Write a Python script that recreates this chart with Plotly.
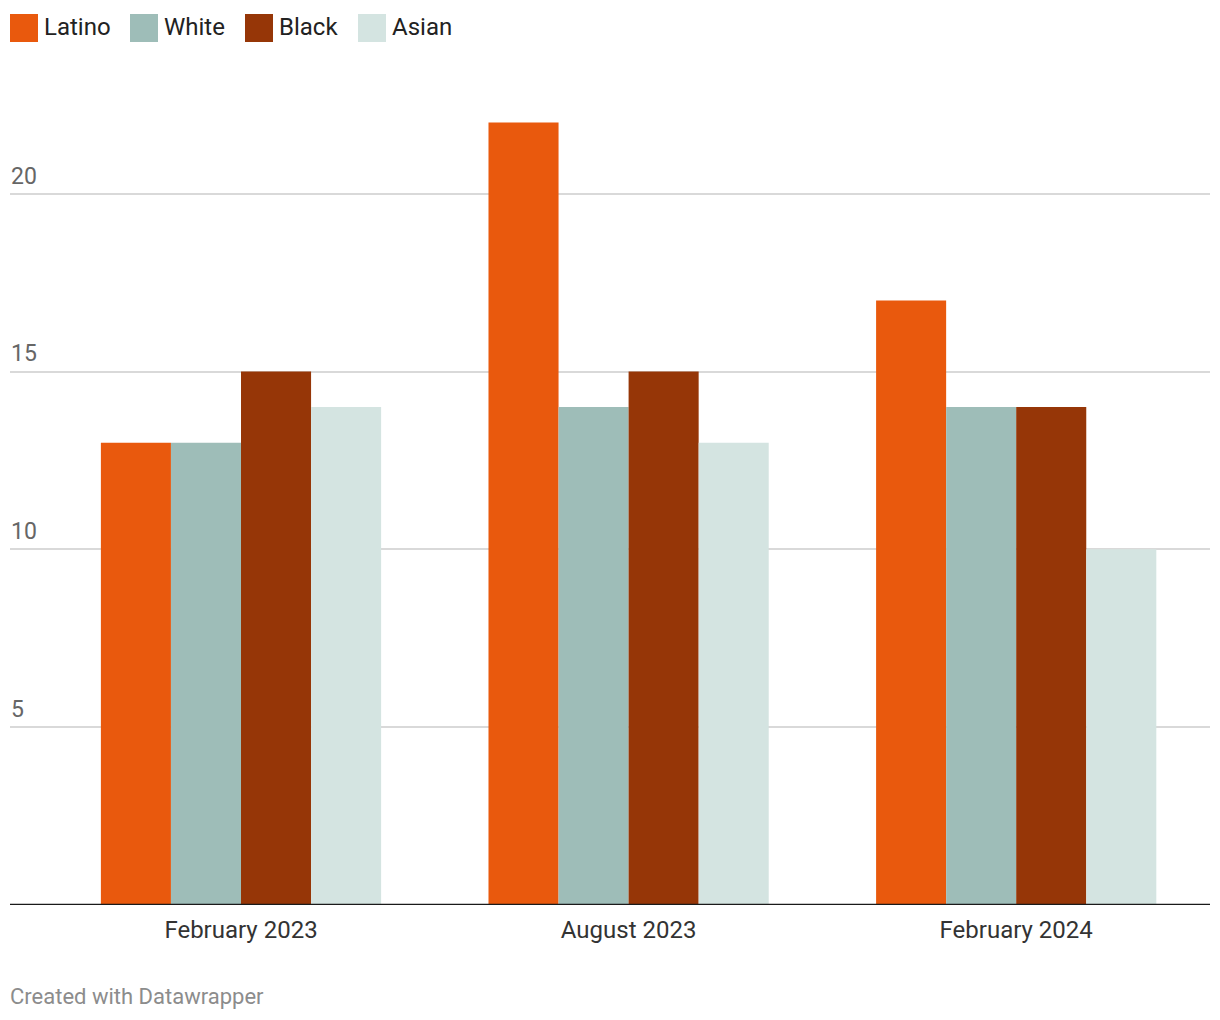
import plotly.graph_objects as go

# Survey waves and values per group
periods = ["February 2023", "August 2023", "February 2024"]
groups = ["Latino", "White", "Black", "Asian"]
latino = [13, 22, 17]
white = [13, 14, 14]
black = [15, 15, 14]
asian = [14, 13, 10]
y_ticks = [5, 10, 15, 20]

series = dict(zip(groups, [latino, white, black, asian]))
colors = {"Latino": "#E9590D", "White": "#9EBDB8", "Black": "#963607", "Asian": "#D4E4E1"}

# page has an 8px body margin, so the figure is drawn 8px in from the window edge
OFF = 8
W, H = 1212, 1012
M_L, M_R, M_T, M_B = 2, 10, 79, 115
plot_h = H - M_T - M_B
plot_w = W - M_L - M_R


def px_x(px):
    return (px - OFF - M_L) / plot_w


def px_y(py):
    return (H - M_B - (py - OFF)) / plot_h


fig = go.Figure()
for g in groups:
    fig.add_trace(
        go.Bar(
            x=periods,
            y=series[g],
            name=g,
            marker=dict(color=colors[g], line=dict(width=0)),
            showlegend=False,
            hoverinfo="x+y+name",
        )
    )

# Legend drawn by hand to get the large square swatches
legend_x = [10, 130, 245, 358]
shapes = []
annotations = []
for g, lx in zip(groups, legend_x):
    shapes.append(
        dict(
            type="rect",
            xref="paper",
            yref="paper",
            x0=px_x(lx),
            x1=px_x(lx + 28),
            y0=px_y(42),
            y1=px_y(14),
            fillcolor=colors[g],
            line=dict(width=0),
            layer="above",
        )
    )
    annotations.append(
        dict(
            text=g,
            xref="paper",
            yref="paper",
            x=px_x(lx + 32),
            y=px_y(27),
            xanchor="left",
            yanchor="middle",
            showarrow=False,
            font=dict(size=24, color="#222222"),
        )
    )

# Baseline
shapes.append(
    dict(
        type="line",
        xref="paper",
        yref="y",
        x0=0,
        x1=1,
        y0=0,
        y1=0,
        line=dict(color="#1a1a1a", width=2.5),
        layer="above",
    )
)

annotations.append(
    dict(
        text="Created with Datawrapper",
        xref="paper",
        yref="paper",
        x=px_x(8),
        y=px_y(996),
        xanchor="left",
        yanchor="middle",
        showarrow=False,
        font=dict(size=22, color="#8c8c8c"),
    )
)

fig.update_layout(
    width=W,
    height=H,
    margin=dict(l=M_L, r=M_R, t=M_T, b=M_B),
    paper_bgcolor="white",
    plot_bgcolor="white",
    barmode="group",
    bargap=0.277,
    bargroupgap=0,
    font=dict(family="Roboto", color="#333333"),
    shapes=shapes,
    annotations=annotations,
)

fig.update_xaxes(
    type="category",
    range=[-0.596, 2.5],
    showgrid=False,
    showline=False,
    ticks="",
    ticklabelstandoff=8,
    tickfont=dict(size=24, color="#333333"),
)

fig.update_yaxes(
    range=[0, 23],
    tickvals=y_ticks,
    showgrid=True,
    gridcolor="#d9d9d9",
    gridwidth=2,
    zeroline=False,
    showline=False,
    ticks="",
    ticklabelposition="inside top",
    ticklabelstandoff=-2,
    ticklabelshift=-2,
    tickfont=dict(size=23, color="#666666"),
)

fig.write_html("out.html")
